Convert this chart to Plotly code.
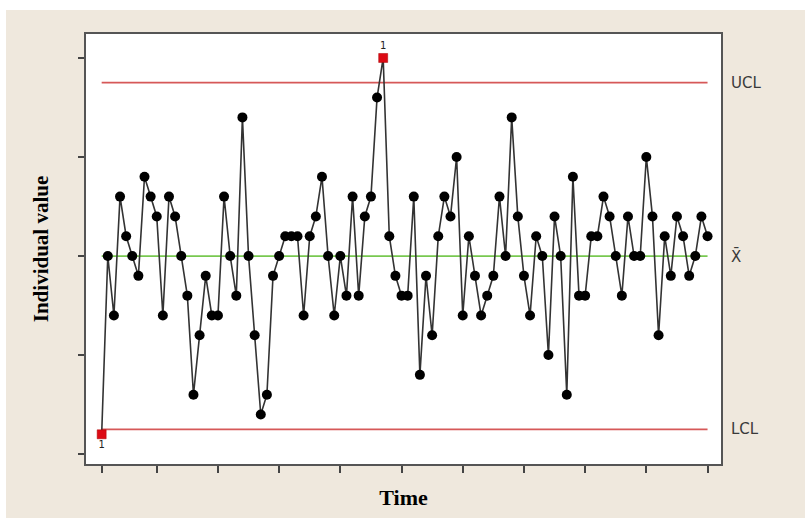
import plotly.graph_objects as go

# ---- data ----
obs = list(range(1, 101))
values = [-9, 0, -3, 3, 1, 0, -1, 4, 3, 2,
          -3, 3, 2, 0, -2, -7, -4, -1, -3, -3,
          3, 0, -2, 7, 0, -4, -8, -7, -1, 0,
          1, 1, 1, -3, 1, 2, 4, 0, -3, 0,
          -2, 3, -2, 2, 3, 8, 10, 1, -1, -2,
          -2, 3, -6, -1, -4, 1, 3, 2, 5, -3,
          1, -1, -3, -2, -1, 3, 0, 7, 2, -1,
          -3, 1, 0, -5, 2, 0, -7, 4, -2, -2,
          1, 1, 3, 2, 0, -2, 2, 0, 0, 5,
          2, -4, 1, -1, 2, 1, -1, 0, 2, 1]
ucl = 8.75
center = 0.0
lcl = -8.75
out_idx = [1, 47]           # observations flagged by test 1
out_labels = ["1", "1"]
x_ticks = [1, 10, 20, 30, 40, 50, 60, 70, 80, 90, 100]
y_ticks = [-10, -5, 0, 5, 10]

L, R, T, B = 86, 84, 34, 54
W, H = 805, 518
pw, ph = W - L - R, H - T - B

fig = go.Figure()

# control limits
fig.add_trace(go.Scatter(x=[obs[0], obs[-1]], y=[ucl, ucl], mode="lines",
                         line=dict(color="rgb(214,88,88)", width=1.7), hoverinfo="skip"))
fig.add_trace(go.Scatter(x=[obs[0], obs[-1]], y=[lcl, lcl], mode="lines",
                         line=dict(color="rgb(214,88,88)", width=1.7), hoverinfo="skip"))
fig.add_trace(go.Scatter(x=[obs[0], obs[-1]], y=[center, center], mode="lines",
                         line=dict(color="rgb(120,200,80)", width=1.7), hoverinfo="skip"))

# data line and points
normal_x = [o for o in obs if o not in out_idx]
normal_y = [values[o - 1] for o in normal_x]
fig.add_trace(go.Scatter(x=obs, y=values, mode="lines",
                         line=dict(color="#333333", width=1.6)))
fig.add_trace(go.Scatter(x=normal_x, y=normal_y, mode="markers",
                         marker=dict(color="black", size=10, symbol="circle")))
fig.add_trace(go.Scatter(x=out_idx, y=[values[o - 1] for o in out_idx],
                         mode="markers+text", text=out_labels,
                         textposition=["bottom center", "top center"],
                         textfont=dict(family="DejaVu Sans", size=10, color="#222"),
                         marker=dict(color="rgb(220,10,20)", size=9, symbol="square",
                                     line=dict(color="rgb(170,0,0)", width=0.5))))

# right-side labels
for yv, txt in [(ucl, "UCL"), (center, "X\u0304"), (lcl, "LCL")]:
    fig.add_annotation(x=1, xref="paper", y=yv, yref="y", text=txt, showarrow=False,
                       xanchor="left", xshift=8, yanchor="middle",
                       font=dict(family="DejaVu Sans", size=15, color="#3a3a3a"))

# white strips at top/left of the image
fig.add_shape(type="rect", xref="paper", yref="paper", x0=-L / pw - 0.01, x1=(W - L) / pw + 0.01,
              y0=(ph + T - 10) / ph, y1=(ph + T) / ph + 0.01, fillcolor="white", line_width=0)
fig.add_shape(type="rect", xref="paper", yref="paper", x0=-L / pw - 0.01, x1=(6 - L) / pw,
              y0=-B / ph - 0.01, y1=(ph + T) / ph + 0.01, fillcolor="white", line_width=0)

fig.update_layout(
    width=W, height=H, showlegend=False,
    margin=dict(l=L, r=R, t=T, b=B),
    paper_bgcolor="rgb(239,232,221)", plot_bgcolor="white",
    xaxis=dict(range=[-1.56, 102.2], tickvals=x_ticks, showticklabels=False,
               ticks="outside", ticklen=7, tickwidth=1.5, tickcolor="#444",
               showgrid=False, zeroline=False, showline=True, mirror=True,
               linecolor="#555", linewidth=2,
               title=dict(text="<b>Time</b>", standoff=18,
                          font=dict(family="Liberation Serif", size=22, color="black"))),
    yaxis=dict(range=[-10.5, 11.21], tickvals=y_ticks, showticklabels=False,
               ticks="outside", ticklen=6, tickwidth=1.5, tickcolor="#444",
               showgrid=False, zeroline=False, showline=True, mirror=True,
               linecolor="#555", linewidth=2,
               title=dict(text="<b>Individual value</b>", standoff=24,
                          font=dict(family="Liberation Serif", size=21, color="black"))),
)

fig.write_html("out.html")
